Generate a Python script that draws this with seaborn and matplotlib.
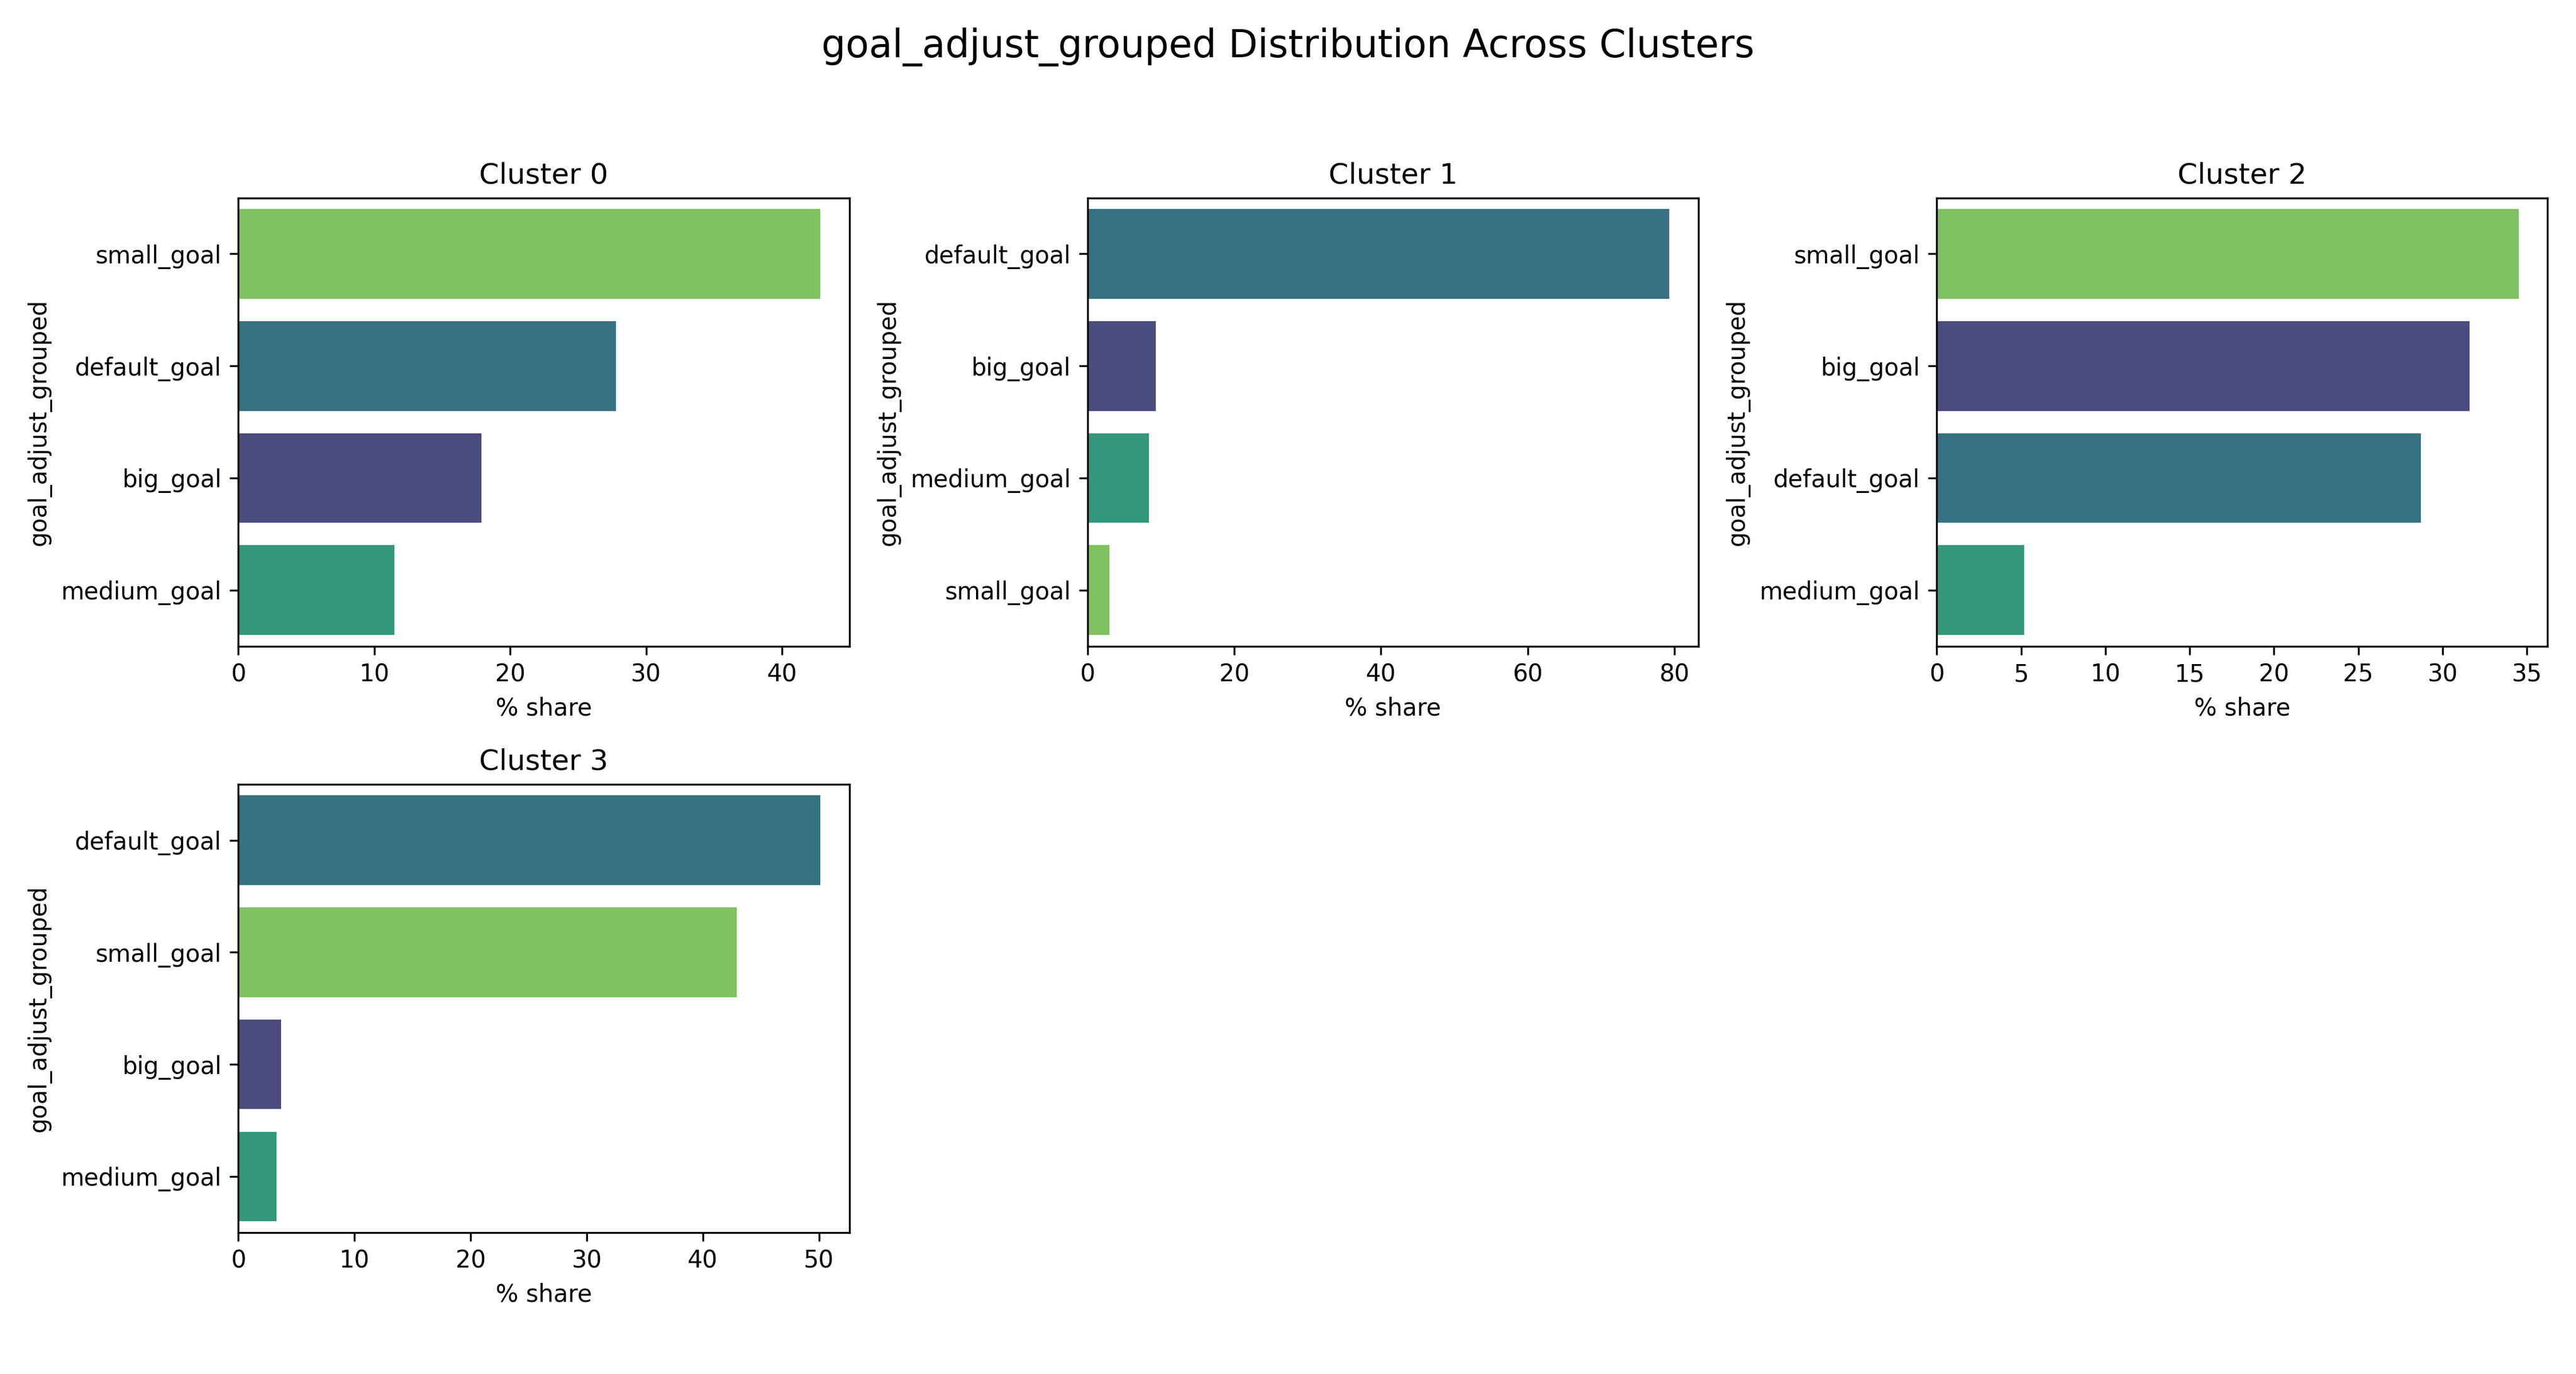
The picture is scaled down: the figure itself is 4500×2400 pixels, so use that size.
import pandas as pd
import matplotlib
matplotlib.use("Agg")
import matplotlib.pyplot as plt
import seaborn as sns

# -----------------------------
# Data
# -----------------------------
goal_groups = ["big_goal", "default_goal", "medium_goal", "small_goal"]

cluster_ids = [0, 1, 2, 3]

cluster0_share = {"small_goal": 42.8, "default_goal": 27.8, "big_goal": 17.9, "medium_goal": 11.5}
cluster1_share = {"default_goal": 79.3, "big_goal": 9.3, "medium_goal": 8.4, "small_goal": 3.0}
cluster2_share = {"small_goal": 34.5, "big_goal": 31.6, "default_goal": 28.7, "medium_goal": 5.2}
cluster3_share = {"default_goal": 50.1, "small_goal": 42.9, "big_goal": 3.7, "medium_goal": 3.3}

shares = [cluster0_share, cluster1_share, cluster2_share, cluster3_share]

# -----------------------------
# Colors: fixed per category
# -----------------------------
palette = dict(zip(goal_groups, sns.color_palette("viridis", len(goal_groups))))

# -----------------------------
# Plot
# -----------------------------
fig, axes = plt.subplots(2, 3, figsize=(15, 8), dpi=300)
axes = axes.flatten()

for i, cid in enumerate(cluster_ids):
    ax = axes[i]
    df = pd.DataFrame({
        "goal_adjust_grouped": list(shares[i].keys()),
        "pct": list(shares[i].values()),
    }).sort_values("pct", ascending=False)
    sns.barplot(
        data=df,
        x="pct",
        y="goal_adjust_grouped",
        hue="goal_adjust_grouped",
        palette=palette,
        order=df["goal_adjust_grouped"],
        legend=False,
        ax=ax,
    )
    ax.set_title(f"Cluster {cid}", fontsize=12)
    ax.set_xlabel("% share")
    ax.set_ylabel("goal_adjust_grouped")

for ax in axes[len(cluster_ids):]:
    fig.delaxes(ax)

fig.suptitle("goal_adjust_grouped Distribution Across Clusters", fontsize=16, y=0.98)
fig.subplots_adjust(left=0.0925, right=0.989, top=0.856, bottom=0.103, wspace=0.39, hspace=0.308)
fig.savefig("out.png", dpi=300)
